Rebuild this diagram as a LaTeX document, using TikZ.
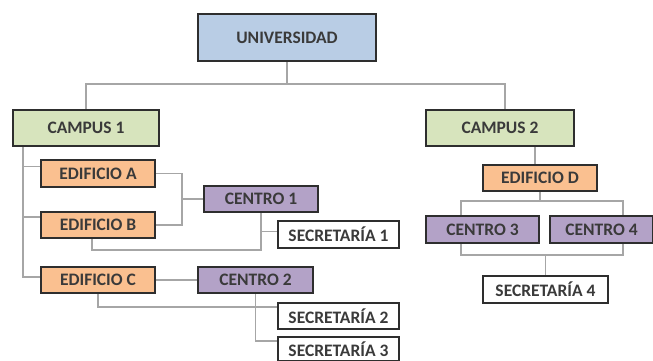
\documentclass[tikz,border=0pt]{standalone}
\usepackage{fontspec}
\setmainfont{Carlito}
\usetikzlibrary{calc,backgrounds}
\definecolor{uniblue}{HTML}{B9CDE5}
\definecolor{campgreen}{HTML}{D7E4BD}
\definecolor{edorange}{HTML}{FAC090}
\definecolor{cenpurple}{HTML}{B3A2C7}
\definecolor{boxline}{HTML}{2E2E2E}
\definecolor{wire}{HTML}{A6A6A6}
\definecolor{ink}{HTML}{3A3A3A}
\tikzset{
  orgbox/.style={draw=boxline, line width=2pt, anchor=north west, inner sep=0pt,
    text=ink, font=\bfseries\fontsize{17.5}{19}\selectfont},
  link/.style={draw=wire, line width=1.6pt},
}
\newcommand{\orgnode}[7]{% name, fill, x1, y1, x2, y2, text
  \node[orgbox, fill=#2, minimum width={#5-#3}, minimum height={#6-#4}] (#1) at (#3,#4) {#7};}
\begin{document}
\begin{tikzpicture}[x=1pt, y=-1pt]
  \clip (0,0) rectangle (653,360);

  % boxes
  \orgnode{uni}{uniblue}{197}{13}{375}{60}{UNIVERSIDAD}
  \orgnode{ca}{campgreen}{12}{109}{158}{145}{CAMPUS 1}
  \orgnode{cb}{campgreen}{425}{109}{573}{145}{CAMPUS 2}
  \orgnode{ea}{edorange}{40}{159}{154}{186}{EDIFICIO A}
  \orgnode{eb}{edorange}{40}{211}{154}{237}{EDIFICIO B}
  \orgnode{ec}{edorange}{40}{266}{154}{292}{EDIFICIO C}
  \orgnode{ed}{edorange}{482}{164}{596}{190}{EDIFICIO D}
  \orgnode{ce1}{cenpurple}{203}{185}{317}{211}{CENTRO 1}
  \orgnode{ce2}{cenpurple}{197}{266}{312}{292}{CENTRO 2}
  \orgnode{ce3}{cenpurple}{425}{215}{538}{242}{CENTRO 3}
  \orgnode{ce4}{cenpurple}{549}{215}{652}{242}{CENTRO 4}
  \orgnode{s1}{white}{277}{220}{398}{247}{SECRETARÍA 1}
  \orgnode{s2}{white}{277}{302}{398}{328}{SECRETARÍA 2}
  \orgnode{s3}{white}{277}{336}{398}{360}{SECRETARÍA 3}
  \orgnode{s4}{white}{482}{275}{607}{302}{SECRETARÍA 4}

  % junction points of the connector tree
  \coordinate (bus) at (0,84);
  \coordinate (spine) at (23,0);
  \coordinate (jab) at (182,0);
  \coordinate (lowB) at (0,250);
  \coordinate (lowC) at (0,307);
  \coordinate (brT) at (461,201);
  \coordinate (brB) at (623,255);
  \coordinate (cbtop) at ($(cb.north)+(5,0)$);
  \coordinate (edtop) at ($(ed.north)+(-5,0)$);

  \begin{pgfonlayer}{background}
    \fill[white] (0,0) rectangle (653,360);
    % university to campuses
    \draw[link] (uni.south) -- (uni.south |- bus);
    \draw[link] (ca.north) |- (uni.south |- bus) -| (cbtop);
    % campus 1 to its buildings
    \draw[link] (spine |- ca.south) |- ($(ea.west)+(0,-7)$);
    \draw[link] (spine |- ca.south) |- ($(eb.west)+(0,-8)$);
    \draw[link] (spine |- ca.south) |- ($(ec.west)+(0,-3)$);
    % buildings A and B to centro 1
    \draw[link] (ea.east) -| (jab |- eb.east) -- (eb.east);
    \draw[link] (ce1.west) -- (ce1.west -| jab);
    \draw[link] ($(eb.south)+(-6,0)$) |- (lowB -| ce1.south) -- (ce1.south);
    \draw[link] (ce1.south) |- ($(s1.west)+(0,-3)$);
    % building C, centro 2 and its offices
    \draw[link] (ec.east) -- (ce2.west);
    \draw[link] (ec.south) |- (lowC -| s2.west);
    \draw[link] (ce2.south) |- ($(s3.north west)+(0,5)$);
    % campus 2 branch
    \draw[link] (edtop |- cb.south) -- (edtop);
    \draw[link] (ed.south) -- (ed.south |- brT);
    \draw[link] (brT) rectangle (brB);
    \draw[link] (s4.north |- brB) -- (s4.north);
  \end{pgfonlayer}
\end{tikzpicture}
\end{document}
